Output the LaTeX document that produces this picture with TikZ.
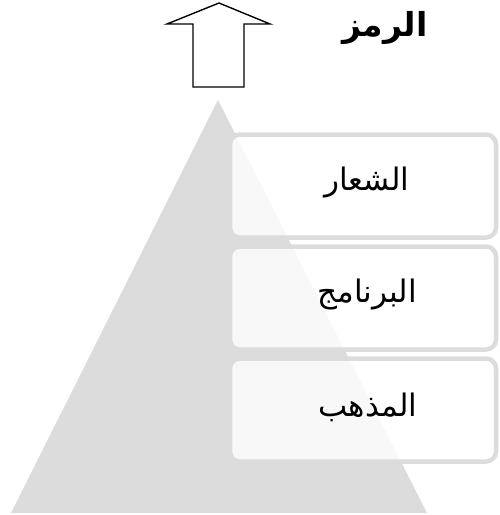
\documentclass[tikz,border=0pt]{standalone}
\usepackage{fontspec}
\newfontfamily\arabicfont[Script=Arabic]{DejaVu Sans}
\TeXXeTstate=1
\definecolor{pyr}{RGB}{220,220,220}
\tikzset{
  pyrbox/.style={draw=pyr, line width=4.5pt, fill=white, fill opacity=0.8, draw opacity=1, rounded corners=10pt},
  lbl/.style={font=\arabicfont\fontsize{31}{36}\selectfont, text=black, inner sep=0pt},
  ttl/.style={font=\arabicfont\bfseries\fontsize{33}{38}\selectfont, text=black, inner sep=0pt},
}
\begin{document}
\begin{tikzpicture}[x=1pt,y=-1pt]
\useasboundingbox (0,0) rectangle (500,515);
% pyramid
\fill[pyr] (218,100) -- (427,513) -- (11,513) -- cycle;
% boxes
\draw[pyrbox] (230,134.5) rectangle (496,237.5);
\draw[pyrbox] (230,246.5) rectangle (496,349.5);
\draw[pyrbox] (230,358.5) rectangle (496,461.5);
\node[lbl] (b1) at (367,183) {\beginR الشعار\endR};
\node[lbl] (b2) at (367,295) {\beginR البرنامج\endR};
\node[lbl] (b3) at (368,407) {\beginR المذهب\endR};
% up arrow
\draw[line width=1.4pt, line join=miter] (219,3) -- (270,24) -- (244,24) -- (244,87) -- (193,87) -- (193,24) -- (167,24) -- cycle;
\node[ttl] (t) at (385,28) {\beginR الرمز\endR};
\end{tikzpicture}
\end{document}
